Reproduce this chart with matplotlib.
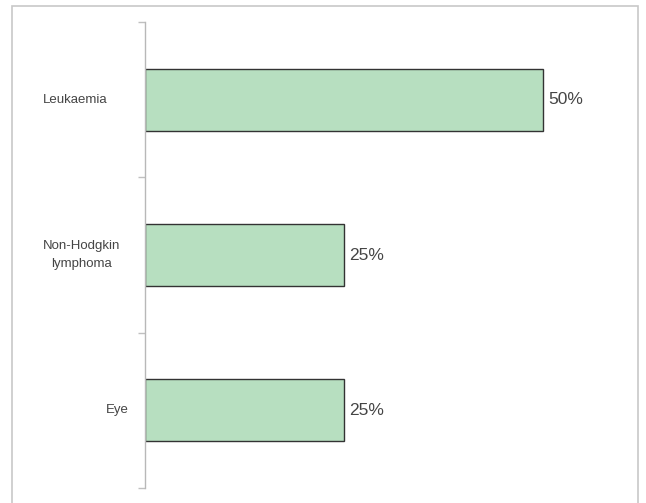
import matplotlib.pyplot as plt
from matplotlib.patches import Rectangle

plt.rcParams['font.family'] = ['Liberation Sans', 'DejaVu Sans']

# data, top to bottom
cancers = ["Leukaemia", "Non-Hodgkin\nlymphoma", "Eye"]
percent = [50, 25, 25]
# label centres in pixels left of the axis (the original labels are not aligned)
label_px = [75, 82, 117]

fig = plt.figure(figsize=(6.46, 5.03), dpi=100)

# outer grey frame of the original picture
fig.patches.append(Rectangle((12 / 646, -0.05), 626 / 646, 1 - 6 / 503 + 0.05,
                             transform=fig.transFigure, fill=False,
                             edgecolor="#c8c8c8", linewidth=1.2))

left_px, right_px = 145, 623
ax = fig.add_axes([left_px / 646, 15 / 503, (right_px - left_px) / 646, 466 / 503])

ypos = [2 - i for i in range(len(cancers))]
ax.barh(ypos, percent, height=0.4, color="#b7dfc0", edgecolor="#333333", linewidth=1)

for y, v in zip(ypos, percent):
    ax.text(v + 0.6, y, f"{v}%", va="center", ha="left", fontsize=12.5, color="#454545")

for y, lab, px in zip(ypos, cancers, label_px):
    ax.text((px - left_px) / (right_px - left_px), y, lab, transform=ax.get_yaxis_transform(),
            ha="center", va="center", fontsize=9.5, color="#454545", multialignment="center",
            linespacing=1.75)

ax.set_xlim(0, 60)
ax.set_ylim(-0.5, 2.5)
ax.set_xticks([])
ax.set_yticks([])
ax.set_yticks([-0.5, 0.5, 1.5, 2.5], minor=True)
ax.tick_params(axis="y", which="minor", length=5, color="#c0c0c0", width=1)
for s in ["top", "right", "bottom"]:
    ax.spines[s].set_visible(False)
ax.spines["left"].set_color("#b8b8b8")
ax.spines["left"].set_linewidth(1)

fig.savefig("out.png", dpi=100)
